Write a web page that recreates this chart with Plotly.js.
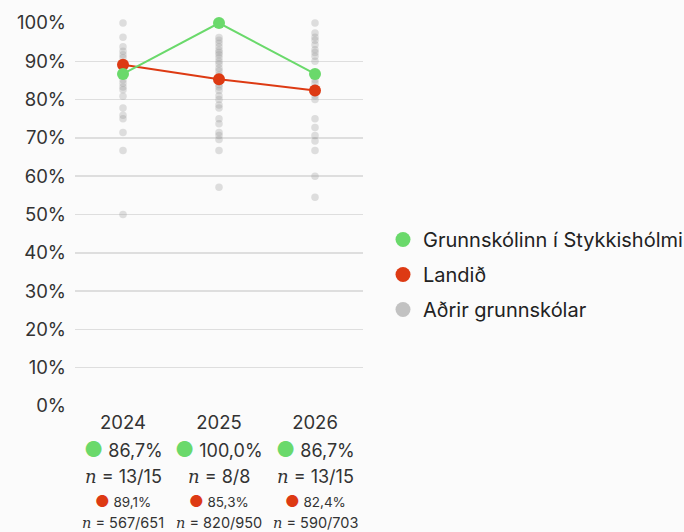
<!DOCTYPE html>
<html><head><meta charset="utf-8">
<script src="https://cdn.plot.ly/plotly-3.0.1.min.js"></script>
<style>html,body{margin:0;padding:0;background:#fbfbfb}</style>
</head><body><div id="chart" style="width:684px;height:532px"></div>
<script>
const years = ['2024', '2025', '2026'];
const schoolName = 'Grunnskólinn í Stykkishólmi';
const nationName = 'Landið';
const otherName = 'Aðrir grunnskólar';
const schoolValues = [86.7, 100.0, 86.7];
const schoolN = ['13/15', '8/8', '13/15'];
const nationValues = [89.1, 85.3, 82.4];
const nationN = ['567/651', '820/950', '590/703'];
const others2024 = [100, 96.3, 93.8, 92.6, 91.7, 90.9, 86.1, 85.2, 84.3, 83.3, 82.6, 80.9, 77.8, 75.9, 75, 71.4, 66.7, 50];
const others2025 = [96.2, 95.5, 94.7, 93.8, 92.9, 92.3, 91.7, 90.9, 90, 89.3, 88.2, 87.5, 86.4, 84.6, 83.9, 83.3, 82.4, 81, 80, 78.6, 77.8, 75, 73.7, 71.4, 70.6, 69.6, 66.7, 57.1];
const others2026 = [100, 97.4, 96.3, 95.5, 94.3, 93, 92.3, 91.3, 90, 86, 85.2, 84.3, 83, 81.8, 81, 80, 75, 72.7, 70.6, 69.2, 66.7, 60, 54.5];

const GREEN = '#6ad96b', RED = '#dd3a13', GRAY = '#c2c2c2';
const FONT = 'Inter, sans-serif';
const fmt = v => v.toFixed(1).replace('.', ',') + '%';

const otherX = [], otherY = [];
[others2024, others2025, others2026].forEach((arr, i) => arr.forEach(v => { otherX.push(years[i]); otherY.push(v); }));

const traces = [
  {x: otherX, y: otherY, type: 'scatter', mode: 'markers', showlegend: false, hoverinfo: 'skip',
   marker: {color: '#999999', opacity: 0.3, size: 7.5}, cliponaxis: false},
  {x: years, y: nationValues, type: 'scatter', mode: 'lines+markers', showlegend: false,
   line: {color: RED, width: 2}, marker: {color: RED, size: 12}, cliponaxis: false},
  {x: years, y: schoolValues, type: 'scatter', mode: 'lines+markers', showlegend: false,
   line: {color: GREEN, width: 2}, marker: {color: GREEN, size: 12}, cliponaxis: false},
  {x: [null], y: [null], type: 'scatter', mode: 'markers', name: schoolName, legendrank: 1, legendgroup: 'a',
   marker: {color: GREEN, size: 15}},
  {x: [null], y: [null], type: 'scatter', mode: 'markers', name: nationName, legendrank: 2, legendgroup: 'b',
   marker: {color: RED, size: 15}},
  {x: [null], y: [null], type: 'scatter', mode: 'markers', name: otherName, legendrank: 3, legendgroup: 'c',
   marker: {color: GRAY, size: 15}}
];

const annotations = [];
const yp = px => (406 - px) / 383;
const nItal = '<span style="font-family:DejaVu Serif"><i>n</i></span>';
years.forEach((yr, i) => {
  annotations.push({x: i, xref: 'x', y: yp(450), yref: 'paper', yanchor: 'middle', showarrow: false,
    text: '<span style="color:' + GREEN + ';font-size:21px">●</span> ' + fmt(schoolValues[i]),
    font: {size: 18, color: '#333'}});
  annotations.push({x: i, xref: 'x', y: yp(476), yref: 'paper', yanchor: 'middle', showarrow: false,
    text: nItal + ' = ' + schoolN[i],
    font: {size: 18, color: '#333'}});
  annotations.push({x: i, xref: 'x', y: yp(501), yref: 'paper', yanchor: 'middle', showarrow: false,
    text: '<span style="color:' + RED + ';font-size:16px">●</span> ' + fmt(nationValues[i]),
    font: {size: 13.5, color: '#333'}});
  annotations.push({x: i, xref: 'x', y: yp(522), yref: 'paper', yanchor: 'middle', showarrow: false,
    text: nItal + ' = ' + nationN[i],
    font: {size: 14.5, color: '#333'}});
});

const layout = {
  width: 684, height: 532,
  margin: {l: 75, r: 321, t: 23, b: 126},
  paper_bgcolor: '#fbfbfb', plot_bgcolor: '#fbfbfb',
  font: {family: FONT, color: '#333'},
  xaxis: {type: 'category', range: [-0.5, 2.5], showgrid: false, zeroline: false, showline: false,
    tickfont: {size: 18.5, color: '#333'}, ticks: '', ticklabelstandoff: 3, fixedrange: true},
  yaxis: {range: [0, 100], dtick: 10, ticksuffix: '%', showgrid: true, gridcolor: '#dedede', gridwidth: 1.5,
    zeroline: false, showline: false, tickfont: {size: 18.5, color: '#333'}, ticks: '', ticklabelstandoff: 8, fixedrange: true},
  showlegend: true,
  legend: {xref: 'container', x: 383 / 684, xanchor: 'left', yref: 'container', y: 1 - 220 / 532, yanchor: 'top',
    font: {size: 20, color: '#222'}, traceorder: 'grouped', tracegroupgap: 6, itemwidth: 30, bgcolor: 'rgba(0,0,0,0)'},
  annotations: annotations
};

Plotly.newPlot('chart', traces, layout, {displayModeBar: false, staticPlot: true});
</script>
</body></html>
